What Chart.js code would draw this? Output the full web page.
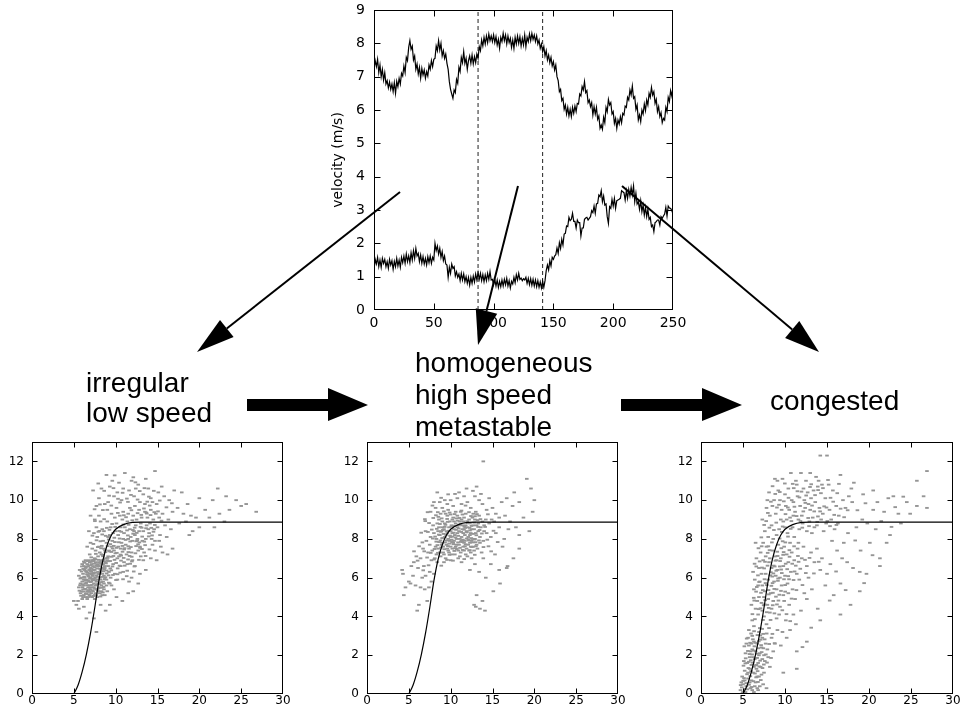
<!DOCTYPE html>
<html><head><meta charset="utf-8">
<script src="https://cdn.jsdelivr.net/npm/chart.js@4.4.0/dist/chart.umd.min.js"></script>
<style>
html,body{margin:0;padding:0;background:#fff;}
#wrap{position:relative;width:962px;height:717px;overflow:hidden;background:#fff;}
canvas{position:absolute;}
svg{position:absolute;left:0;top:0;pointer-events:none;}
</style></head><body>
<div id="wrap">
<canvas id="topChart" width="390" height="330" style="left:300px;top:0px"></canvas>
<canvas id="p1" width="295" height="287" style="left:0px;top:430px"></canvas>
<canvas id="p2" width="300" height="287" style="left:330px;top:430px"></canvas>
<canvas id="p3" width="302" height="287" style="left:660px;top:430px"></canvas>
<svg width="962" height="717" xmlns="http://www.w3.org/2000/svg">
<g stroke="#000" stroke-width="2" fill="none">
<line x1="400" y1="192" x2="226.8" y2="328.5"/>
<line x1="518" y1="186" x2="486.5" y2="311"/>
<line x1="622" y1="186" x2="792.2" y2="329.5"/>
</g>
<g fill="#000">
<polygon points="197,352 233.6,337.1 220,319.9"/>
<polygon points="478,345 497.2,313.7 475.8,308.3"/>
<polygon points="819,352 799.3,321.1 785.1,337.9"/>
<polygon points="247,399 328,399 328,388 368,405 328,421 328,411 247,411"/>
<polygon points="621,399 702,399 702,388 742,405 702,421 702,411 621,411"/>
</g>
<g font-family="Liberation Sans, Arial, sans-serif" font-size="28" fill="#000">
<text x="86" y="392">irregular</text>
<text x="86" y="422">low speed</text>
<text x="415" y="372">homogeneous</text>
<text x="415" y="404">high speed</text>
<text x="415" y="436">metastable</text>
<text x="770" y="410">congested</text>
</g>
</svg>
</div>
<script>
// ---------- DATA ----------
const sampleStep = 1; // seconds between samples
const timeUpper = [7.25,7.48,7.30,7.52,7.12,7.35,7.00,7.22,6.90,7.12,6.78,
6.88,6.66,6.84,6.62,6.78,6.55,6.82,6.50,6.86,6.70,
6.95,6.78,7.10,7.02,7.32,7.12,7.58,7.48,7.88,8.08,
7.82,7.92,7.50,7.62,7.22,7.38,7.08,7.28,6.95,7.25,
7.05,7.20,6.95,7.15,7.02,7.35,7.22,7.48,7.30,7.52,
7.55,7.92,7.78,8.08,7.80,8.00,7.62,7.78,7.55,7.68,
7.40,7.22,6.85,6.62,6.48,6.35,6.60,6.52,6.92,6.80,
7.28,7.15,7.58,7.42,7.75,7.40,7.55,7.22,7.48,7.62,
7.40,7.65,7.38,7.60,7.42,7.68,7.55,7.90,7.78,8.10,
7.92,8.18,7.98,8.22,8.02,8.28,8.08,8.22,8.05,8.25,
8.02,8.20,7.95,8.12,7.85,8.18,8.05,8.30,8.08,8.25,
7.98,8.22,8.02,8.15,7.88,8.10,7.85,8.18,7.98,8.22,
8.00,8.20,7.92,8.15,7.95,8.25,7.90,8.18,8.05,8.28,
8.08,8.30,8.12,8.25,8.05,8.22,7.98,8.10,7.85,7.98,
7.75,7.90,7.62,7.78,7.50,7.65,7.42,7.58,7.32,7.45,
7.20,7.35,7.00,6.88,6.55,6.62,6.28,6.35,6.02,6.15,
5.88,6.08,5.82,6.02,5.80,6.08,5.90,6.12,5.95,6.20,
6.18,6.48,6.42,6.70,6.60,6.85,6.52,6.58,6.22,6.30,
6.10,6.22,5.85,6.10,5.88,6.08,5.72,5.82,5.45,5.55,
5.42,5.78,5.62,6.08,5.95,6.32,6.15,6.22,5.88,5.95,
5.60,5.75,5.45,5.70,5.58,5.80,5.62,5.90,5.85,6.12,
6.08,6.38,6.30,6.60,6.45,6.72,6.35,6.40,6.02,6.15,
5.70,5.85,5.65,6.00,5.88,6.18,5.98,6.30,6.15,6.50,
6.38,6.68,6.45,6.55,6.20,6.32,5.95,6.10,5.80,5.92,
5.62,5.75,5.70,6.08,5.95,6.38,6.25,6.58,6.42,6.68];
const timeLower = [1.20,1.52,1.38,1.58,1.30,1.50,1.28,1.55,1.40,1.52,1.30,
1.45,1.25,1.52,1.35,1.48,1.22,1.46,1.30,1.55,1.32,
1.50,1.28,1.58,1.42,1.62,1.40,1.68,1.45,1.62,1.42,
1.72,1.50,1.78,1.55,1.85,1.62,1.70,1.45,1.65,1.40,
1.60,1.38,1.55,1.35,1.60,1.42,1.62,1.40,1.58,1.50,
2.00,1.78,1.92,1.68,1.85,1.58,1.75,1.48,1.62,1.38,
1.35,0.98,1.28,1.10,1.38,1.25,1.30,1.02,1.15,0.98,
1.08,0.88,1.10,0.90,1.08,0.85,1.00,0.80,0.98,0.75,
0.98,0.80,1.02,0.84,1.08,0.90,1.12,0.92,1.10,0.88,
1.06,0.85,1.05,0.88,1.10,0.92,1.15,0.90,0.92,0.76,
0.92,0.72,0.90,0.68,0.86,0.70,0.90,0.72,0.92,0.76,
0.95,0.72,0.88,0.66,0.86,0.78,0.98,0.82,1.06,0.90,
1.10,0.92,0.96,0.88,0.94,0.90,0.98,0.80,0.95,0.76,
0.94,0.74,0.92,0.72,0.90,0.70,0.88,0.68,0.84,0.66,
0.86,0.68,0.88,1.18,1.35,1.20,1.48,1.32,1.58,1.52,
1.62,1.66,1.86,1.70,2.02,1.85,2.12,1.95,2.28,2.30,
2.52,2.50,2.78,2.68,2.72,2.90,2.66,2.66,2.46,2.70,
2.62,2.62,2.22,2.46,2.46,2.72,2.76,2.78,2.70,2.75,
2.80,2.98,2.92,3.12,2.90,3.18,3.20,3.45,3.40,3.58,
3.25,3.42,3.15,3.18,2.80,2.60,3.10,3.05,3.32,3.12,
3.35,3.05,3.28,3.30,3.32,3.35,3.58,3.55,3.52,3.30,
3.58,3.35,3.62,3.42,3.68,3.45,3.72,3.25,3.50,3.18,
3.25,3.02,3.28,2.95,3.15,2.85,3.08,2.80,3.02,2.72,
2.78,2.50,2.55,2.35,2.62,2.65,2.70,2.70,2.55,2.80,
2.75,2.82,2.88,3.08,2.82,3.12,3.06,3.05,2.98,2.88];
const phaseDividers = [87, 141];
const topXTicks = [0, 50, 100, 150, 200, 250];
const topYTicks = [0, 1, 2, 3, 4, 5, 6, 7, 8, 9];
const fdXTicks = [0, 5, 10, 15, 20, 25, 30];
const fdYTicks = [0, 2, 4, 6, 8, 10, 12];
const fitHeadway = [5, 5.5, 6, 6.5, 7, 7.5, 8, 8.5, 9, 9.5, 10, 11, 12, 13, 30];
const fitSpeed   = [0, 0.45, 1.15, 2.05, 3.15, 4.45, 5.85, 6.95, 7.7, 8.2, 8.5, 8.75, 8.85, 8.87, 8.87];

const lowSpeedPts = [
[6.2,5.1],[6.8,5.6],[7.1,6.3],[6.5,5.9],[7.6,5.2],[8.1,6.0],[6.9,6.8],[7.4,5.7],[6.3,6.4],[8.6,5.4],[7.9,6.6],[6.6,5.3],[7.2,5.0],[8.3,6.9],[6.0,5.8],[7.7,6.1],[8.9,5.9],[6.4,6.9],[7.0,5.4],[8.4,5.1],
[5.8,5.2],[7.3,6.6],[6.7,6.1],[8.0,5.5],[9.2,6.3],[6.1,6.2],[7.5,4.9],[7.8,5.9],[6.9,5.1],[8.7,6.5],[5.6,5.5],[7.1,5.8],[6.4,5.0],[8.2,6.4],[7.6,6.8],[9.0,5.3],[6.7,6.6],[7.3,5.3],[5.9,6.0],[8.5,5.8],
[7.0,6.5],[6.2,5.6],[7.8,5.0],[8.8,6.8],[6.5,6.3],[7.4,6.2],[6.0,4.9],[8.1,5.2],[7.2,6.9],[6.8,5.8],[9.3,5.7],[5.7,6.4],[7.9,5.7],[6.3,5.4],[8.4,6.2],[7.5,6.4],[6.6,4.9],[7.0,6.0],[8.0,6.8],[6.9,6.4],
[7.7,5.4],[6.1,5.0],[8.6,6.1],[7.3,5.9],[5.5,4.8],[6.4,5.7],[7.6,6.0],[8.3,5.6],[6.8,6.9],[7.1,5.2],[9.1,6.6],[6.2,6.6],[7.9,6.3],[6.7,5.5],[8.7,5.1],[7.4,5.5],[6.0,6.7],[8.2,5.9],[7.2,6.2],[6.5,5.2],
[7.8,6.7],[9.4,6.0],[6.9,6.2],[7.5,5.1],[5.8,5.7],[8.5,6.7],[6.3,6.0],[7.0,5.6],[8.0,6.2],[6.6,6.7],[7.7,5.8],[8.9,5.6],[6.1,5.4],[7.3,6.4],[5.6,6.1],[8.3,5.3],[7.1,6.7],[6.4,6.5],[7.6,5.6],[8.1,6.6],
[6.8,5.3],[9.0,6.9],[5.9,5.3],[7.4,6.9],[6.7,5.0],[8.6,5.7],[7.2,5.5],[6.2,5.9],[7.9,5.3],[8.4,6.5],
[6.35,5.42],[6.92,5.97],[7.48,6.53],[7.83,5.36],[6.57,6.18],[7.16,5.63],[8.27,5.77],[6.04,5.51],[7.62,6.27],[6.76,5.14],[8.51,6.33],[7.05,6.82],[5.92,6.32],[7.38,5.06],[8.05,6.47],[6.48,5.73],[7.27,6.09],[6.83,6.42],[8.78,6.02],[6.17,5.28],
[7.71,5.64],[6.62,6.86],[7.94,6.92],[7.19,5.34],[8.36,5.48],[5.78,5.96],[6.99,5.78],[7.54,5.87],[6.28,6.77],[8.64,6.83],[7.09,6.17],[6.41,5.16],[7.87,6.05],[6.71,5.87],[8.19,5.03],[5.67,5.33],[7.43,6.72],[6.95,6.63],[8.47,5.24],[6.23,6.05],
[7.66,5.09],[7.01,5.02],[6.54,6.56],[8.08,5.67],[7.35,6.26],[5.86,5.07],[6.88,5.27],[7.79,6.48],[6.12,6.45],[8.92,6.37],[7.24,5.88],[6.67,6.27],[7.58,6.95],[8.41,6.04],[6.37,5.84],[7.13,6.48],[5.96,6.58],[7.97,5.46],[6.79,6.06],[8.69,5.93],
[7.52,5.43],[6.46,6.34],[7.31,6.86],[8.23,6.71],[6.08,5.66],[7.74,6.61],[6.86,5.48],[9.15,6.12],[7.45,5.97],[6.59,5.61],[8.32,6.86],[7.02,6.35],[6.19,6.83],[7.91,6.19],[6.73,5.36],[8.56,5.52],[7.17,5.94],[5.74,5.61],[9.36,6.48],[8.14,6.29],
[8.62,6.42],[9.04,7.02],[9.48,6.38],[9.86,6.92],[10.24,6.48],[10.66,7.14],[11.08,6.62],[11.52,7.32],[11.94,6.84],[12.36,7.26],[12.78,6.92],[8.84,6.74],[9.26,7.36],[9.68,6.14],[10.12,7.54],[10.54,6.26],[10.96,7.02],[11.38,6.36],[11.82,7.58],[12.24,6.58],
[12.68,7.72],[13.14,7.48],[8.46,7.18],[8.92,6.22],[9.34,6.86],[9.78,7.64],[10.22,6.18],[10.64,6.88],[11.06,7.52],[11.48,6.94],[11.92,7.08],[12.46,7.88],[13.42,7.86],[9.18,5.74],[9.62,6.58],[10.04,5.88],[10.46,6.62],[10.88,5.92],[11.32,6.08],[11.74,6.72],
[12.16,6.32],[13.58,7.12],[8.34,7.64],[8.78,7.32],[9.52,7.08],[9.96,7.26],[10.82,7.34],[11.66,7.12],[12.92,7.54],[14.04,7.46],
[7.2,7.5],[7.8,8.1],[8.3,7.2],[8.9,7.8],[9.4,8.6],[9.8,7.4],[10.3,8.2],[10.8,9.0],[11.2,7.7],[11.7,8.5],[12.1,9.2],[12.6,8.0],[13.0,8.8],[13.5,9.4],[14.0,8.3],[14.5,9.0],[15.0,8.6],[7.5,7.0],[8.0,7.6],[8.6,8.4],
[9.1,7.1],[9.6,7.9],[10.1,8.8],[10.6,7.5],[11.0,8.3],[11.5,9.3],[12.0,7.9],[12.4,8.7],[12.9,7.6],[13.3,8.4],[13.8,9.1],[14.3,8.0],[14.8,9.3],[7.0,7.8],[7.7,8.6],[8.2,8.9],[8.8,7.0],[9.3,8.2],[9.9,9.1],[10.4,7.1],
[10.9,8.0],[11.4,8.9],[11.9,7.3],[12.3,8.2],[12.8,9.5],[13.2,7.9],[13.7,8.7],[14.2,9.5],[14.6,8.5],[15.2,9.1],[7.4,8.3],[8.1,7.3],[8.5,7.9],[9.0,8.9],[9.5,7.6],[10.0,8.4],[10.5,9.2],[10.7,7.8],[11.1,8.6],[11.6,7.5],
[12.2,8.4],[12.7,7.4],[13.1,9.1],[13.6,8.0],[14.1,8.8],[14.4,7.7],[15.3,8.2],[7.9,7.1],[8.4,8.5],[8.7,6.6],[9.2,7.4],[9.7,8.3],[10.2,7.0],[10.6,8.6],[11.3,7.2],[11.8,8.1],[12.5,9.0],[13.4,7.3],[13.9,8.5],[14.7,7.9],
[8.0,9.2],[9.5,9.3],[10.9,9.4],[12.0,6.9],[13.0,7.1],[7.3,6.9],[8.2,6.8],[9.7,6.7],[11.0,6.8],[15.6,9.3],[15.9,8.7],[16.3,9.0],[16.6,8.5],[15.4,7.6],[16.1,8.1],[16.8,9.4],[12.8,8.4],[11.5,8.0],[10.3,7.6],[9.1,8.1],
[8.6,7.5],[7.6,7.4],[10.1,9.6],[12.3,9.7],[13.5,9.8],[14.4,9.9],[9.0,9.5],[11.7,9.6],
[7.63,7.23],[8.17,7.88],[8.73,7.42],[9.26,8.47],[9.84,8.06],[10.38,7.83],[10.92,8.74],[11.46,8.18],[11.98,8.96],[12.52,8.31],[13.06,9.24],[13.63,8.55],[14.17,9.23],[14.68,8.72],[7.34,7.74],[7.93,8.37],[8.48,7.11],[9.03,7.63],[9.58,8.77],[10.14,7.28],
[10.67,8.37],[11.24,9.12],[11.73,7.87],[12.27,8.58],[12.84,7.82],[13.38,9.57],[13.95,8.13],[14.52,8.37],[15.06,9.42],[7.08,7.05],[7.52,8.92],[8.06,8.41],[8.62,9.02],[9.17,7.97],[9.73,7.12],[10.26,9.34],[10.81,7.64],[11.36,8.44],[11.88,9.48],[12.44,7.63],
[12.97,8.62],[13.52,7.68],[14.07,9.72],[14.61,9.38],[15.48,8.94],[7.86,7.58],[8.39,8.23],[8.94,8.57],[9.47,7.33],[9.94,8.62],[10.47,8.02],[11.02,7.46],[11.55,8.73],[12.09,8.27],[12.62,9.33],[13.17,8.12],[13.72,9.31],[14.26,8.57],[8.25,7.52],[8.81,8.16],
[9.36,7.73],[9.91,7.84],[10.44,8.41],[10.98,9.22],[11.51,7.62],[12.06,8.46],[12.58,7.92],[13.11,8.58],[13.66,9.36],[14.35,8.18],[7.22,8.17],[7.71,7.93],[8.54,6.92],[9.12,6.85],[9.64,7.51],[10.06,6.76],[10.58,7.19],[11.19,7.95],[16.07,9.63],
[7.3,10.5],[8.0,10.1],[8.7,9.8],[9.3,10.7],[8.9,11.3],[9.8,10.2],[10.4,10.9],[11.1,11.4],[10.7,10.0],[11.6,10.5],[12.2,10.2],[12.7,10.8],[13.3,10.3],[13.9,10.6],[14.7,11.5],[14.2,10.1],[15.1,10.4],[15.8,10.2],[16.4,10.0],[17.0,10.5],
[7.7,9.7],[8.3,10.6],[9.6,11.0],[10.2,10.4],[11.9,11.0],[12.9,9.9],[13.6,11.1],[14.9,9.8],[15.5,10.7],[9.1,9.9],[10.9,10.6],[12.4,10.6],[7.0,9.2],[7.5,9.0],[6.8,8.4],[6.6,7.6],[6.9,7.2],
[8.12,9.78],[8.63,10.48],[9.22,10.23],[9.74,10.62],[10.28,10.07],[10.83,10.38],[11.34,10.08],[11.83,10.27],[12.36,10.92],[12.88,10.47],[13.44,10.62],[13.97,10.18],[14.56,10.48],[15.27,9.98],[7.48,9.53],[8.47,9.49],[9.48,9.72],[10.53,9.88],[11.47,9.91],[12.62,10.03],
[13.78,9.92],[7.92,10.86],[9.88,11.28],[12.11,11.18],[16.72,9.84],
[5.3,4.6],[5.6,4.4],[6.2,4.5],[6.9,4.2],[7.4,3.9],[7.7,3.2],[8.2,4.6],[8.8,4.3],[9.3,4.6],[6.5,3.9],[10.1,5.0],[10.8,4.8],[9.8,5.4],[11.5,5.2],[12.1,5.3],[5.0,4.8],
[10.2,5.9],[10.9,6.3],[11.6,5.8],[12.3,6.6],[12.9,6.2],[13.6,6.4],[14.2,7.0],[14.9,6.9],[15.6,7.3],[16.2,7.2],[11.4,6.7],[12.7,5.7],[13.3,6.9],[14.7,7.4],[10.6,6.6],[9.9,6.2],[9.5,5.6],[11.9,6.0],[16.8,7.5],[15.2,7.9],
[17.6,8.8],[18.1,9.3],[18.4,8.9],[18.8,8.2],[19.2,8.4],[19.6,9.1],[20.0,10.1],[20.0,8.6],[20.7,9.5],[21.2,9.1],[21.6,10.0],[22.2,10.6],[22.4,9.3],[23.0,8.9],[23.2,10.2],[24.4,10.0],[25.0,9.7],[25.6,9.8],[26.8,9.4],[18.6,9.8],
[17.4,9.6],[19.0,9.2],[21.8,8.6],[23.6,9.5],[17.9,10.4]];

const metastablePts = [
[9.0,7.8],[9.6,8.3],[10.2,7.5],[10.8,8.6],[11.3,7.9],[11.9,8.4],[12.4,7.6],[9.3,8.8],[10.0,8.1],[10.5,7.2],[11.1,8.9],[11.6,7.4],[12.1,8.1],[12.7,8.7],[8.7,8.2],[9.8,7.3],[10.4,8.5],[11.0,7.7],[11.5,8.3],[12.0,7.1],
[12.6,8.0],[8.5,7.5],[9.2,8.5],[9.9,8.9],[10.7,8.0],[11.2,7.3],[11.8,8.7],[12.3,7.8],[13.0,8.3],[8.8,7.1],[9.5,7.7],[10.1,8.7],[10.6,7.6],[11.4,8.5],[12.2,9.0],[12.8,7.4],[13.3,8.8],[8.3,8.0],[9.1,7.3],[9.7,8.0],
[10.3,9.1],[10.9,7.4],[11.7,7.9],[12.5,8.5],[13.1,7.7],[8.6,8.6],[9.4,7.0],[10.0,7.6],[10.8,9.2],[11.3,8.1],[12.0,8.6],[12.9,9.0],[13.5,8.1],[8.2,7.6],[9.0,8.9],[9.7,7.4],[10.4,7.9],[11.0,8.4],[11.6,9.1],[12.4,8.3],
[13.2,7.5],[8.9,8.4],[9.6,9.2],[10.2,8.3],[10.9,7.0],[11.5,7.6],[12.2,7.4],[12.7,9.3],[13.6,8.6],[8.0,8.3],[8.7,7.3],[9.3,8.1],[9.9,7.9],[10.6,8.8],[11.2,9.4],[11.8,7.2],[12.5,7.9],[13.4,9.2],[14.0,8.4],[8.4,8.8],
[9.1,7.6],[9.8,8.6],[10.5,8.2],[11.1,7.1],[11.7,8.2],[12.3,8.8],[12.9,8.0],[13.8,8.9],[7.8,7.4],[8.6,9.0],[9.5,8.4],[10.2,9.0],[10.7,7.7],[11.4,8.7],[12.1,7.7],[12.8,8.5],[13.5,7.8],[7.6,8.1],[8.1,7.0],[8.9,7.7],
[9.4,9.3],[10.1,7.2],[10.8,8.3],[11.3,9.0],[11.9,7.5],[12.6,9.1],[13.3,8.4],[14.2,9.0],[7.9,8.7],[8.5,8.4],[9.2,7.2],[10.0,8.4],[10.6,9.4],[11.1,8.0],[11.8,9.3],[12.4,7.3],[13.0,9.4],[13.9,7.9],[7.5,7.7],[8.3,7.2],
[9.0,8.6],[9.7,9.5],[10.3,7.8],[11.0,8.7],[11.6,7.8],[12.3,8.2],[13.1,8.7],[14.3,8.3],[8.8,9.3],[9.6,7.5],[10.4,8.9],[11.5,8.9],[12.7,7.6],[14.0,8.7],[7.7,6.9],[8.4,6.8],[9.2,6.8],[10.0,6.9],[11.3,6.8],[12.5,7.0],
[13.7,7.3],[14.6,8.8],[14.8,8.1],[7.3,7.3],[7.1,7.9],[7.0,8.4],
[8.62,7.84],[9.14,8.26],[9.67,7.63],[10.18,8.12],[10.73,7.48],[11.26,8.36],[11.78,7.72],[12.31,8.44],[12.86,7.97],[8.34,8.52],[8.86,7.56],[9.38,8.73],[9.92,8.17],[10.43,7.38],[10.96,8.54],[11.47,7.96],[12.02,8.82],[12.54,7.58],[13.07,8.19],[8.47,7.28],
[8.98,8.04],[9.51,7.92],[10.07,8.63],[10.58,8.08],[11.12,7.54],[11.63,8.64],[12.16,7.92],[12.68,8.26],[13.22,8.97],[8.14,8.12],[8.72,8.77],[9.24,7.47],[9.79,8.42],[10.32,7.73],[10.84,8.94],[11.37,7.84],[11.92,8.02],[12.43,9.18],[12.98,7.83],[13.46,8.46],
[8.28,7.86],[8.81,8.37],[9.33,7.82],[9.86,7.18],[10.39,8.68],[10.91,8.16],[11.43,7.43],[11.96,8.91],[12.47,8.04],[13.02,7.62],[8.53,9.14],[9.06,8.46],[9.58,9.03],[10.12,7.96],[10.64,8.47],[11.18,8.78],[11.71,7.62],[12.26,8.57],[12.81,8.84],[13.38,7.92],
[7.86,8.02],[8.41,7.68],[8.93,9.06],[9.46,8.21],[9.99,9.26],[10.53,7.52],[11.06,9.08],[11.59,8.48],[12.12,7.97],[12.64,7.82],[13.28,8.62],[7.74,8.48],[8.24,9.22],[8.77,7.92],[9.29,8.62],[9.82,7.76],[10.36,8.32],[10.88,7.82],[11.41,9.26],[11.94,8.34],
[12.49,8.67],[13.56,9.02],[8.07,7.48],[8.58,8.22],[9.11,8.06],[9.64,8.88],[10.16,7.84],[10.69,9.06],[11.22,7.86],[11.74,8.57],[12.29,7.42],[12.91,9.17],[13.73,8.28],[7.92,9.08],[8.46,9.38],[9.19,9.42],[9.88,9.36],[10.47,9.28],[11.29,9.46],[12.19,9.38],
[13.14,9.28],[14.12,8.62],[14.45,9.27],[7.42,8.82],[7.28,8.36],[7.62,7.28],[8.02,6.94],[8.88,6.62],[9.56,6.92],[10.28,6.88],[11.62,6.96],[12.88,7.18],[13.92,7.58],[14.52,7.62],[7.18,7.04],[6.84,7.36],[6.62,7.82],[6.96,8.92],[7.24,9.38],
[7.82,9.72],[8.86,10.12],[10.52,10.32],[11.78,9.72],[12.66,10.48],[13.62,10.32],[6.92,9.02],[6.48,8.32],[6.23,7.62],[5.62,7.36],[6.05,6.88],[6.72,6.38],[7.36,6.64],[14.38,7.96],[15.12,8.42],[14.84,7.36],[15.62,7.84],
[7.6,9.4],[8.2,9.6],[8.7,9.9],[9.3,10.0],[9.7,10.3],[10.3,9.7],[10.8,10.1],[11.3,9.8],[11.9,10.6],[12.4,9.6],[12.9,10.2],[13.1,10.7],[13.8,9.8],[14.3,9.5],[14.6,10.1],[8.0,9.9],[9.0,9.6],[10.0,10.0],[11.0,10.4],[12.0,9.9],
[13.4,10.0],[8.4,10.4],[9.6,9.8],[11.6,10.2],[13.9,12.0],[15.0,9.6],[15.4,9.3],[15.8,9.1],[14.9,9.0],
[4.2,6.4],[4.3,6.2],[4.4,5.1],[4.6,5.5],[5.0,5.8],[5.2,5.7],[5.5,6.1],[5.8,5.6],[6.0,4.3],[6.2,4.6],[6.4,5.5],[6.6,6.0],[6.9,5.4],[7.2,4.8],[7.4,5.5],[5.3,6.6],[6.1,6.5],[6.8,6.6],[7.5,6.3],[5.9,7.1],
[6.4,7.0],[6.7,7.5],[5.6,6.8],[7.0,6.1],[8.0,6.2],[7.7,5.8],
[12.8,4.6],[13.0,4.5],[13.1,5.1],[13.5,4.4],[14.1,4.3],[13.8,4.8],[15.1,5.3],[15.9,5.7],[16.7,6.5],[17.5,7.0],[15.8,6.4],[16.8,6.6],[13.4,6.3],[14.2,6.0],[14.8,6.7],[12.9,6.7],[13.9,7.0],[15.3,7.2],[16.2,7.6],[12.3,6.4],
[16.1,9.9],[17.4,9.7],[18.2,9.9],[19.1,11.1],[19.6,10.6],[20.0,10.0],[19.8,9.4],[19.4,8.4],[18.2,8.2],[16.9,8.5],[18.2,7.5],[15.8,8.6],[16.5,9.2],[17.1,8.9],[17.8,8.6],[15.4,8.3],[16.4,8.0],[18.7,9.1],[17.6,10.4],[16.7,10.1],
[15.2,8.9]];

const congestedPts = [
[4.7,0.2],[5.0,0.5],[5.3,0.1],[5.6,0.8],[5.9,0.3],[6.2,1.1],[6.5,0.6],[6.8,0.2],[7.1,1.4],[5.2,1.2],[5.5,1.6],[5.8,1.9],[6.1,2.3],[6.4,1.8],[6.7,2.6],[7.0,2.1],[7.3,2.9],[7.6,1.7],[4.9,0.9],[5.4,0.4],
[6.0,0.7],[6.3,0.1],[6.6,1.3],[6.9,0.9],[7.4,0.5],[7.8,0.3],[5.1,1.7],[5.7,2.5],[6.0,1.5],[6.3,2.7],[6.8,1.6],[7.2,2.4],[7.5,1.1],[8.0,1.9],[5.3,2.1],[5.6,2.9],[6.1,3.0],[6.5,2.2],[6.9,3.2],[7.7,2.6],
[8.2,1.4],[4.8,0.6],[5.5,0.0],[5.8,1.3],[6.4,0.4],[6.7,0.9],[7.0,0.4],[7.3,1.8],[5.4,2.6],[5.9,2.2],[6.2,1.9],[6.6,1.5],[7.1,2.8],[7.9,2.3],[8.4,2.9],[5.0,0.1],[5.6,1.1],[6.0,2.6],[6.7,0.3],[7.5,2.0],
[5.2,0.7],[6.3,1.4],[6.9,2.0],[7.4,3.1],[8.6,2.2],[5.8,0.6],[6.1,0.2],[7.2,1.0],
[4.86,0.34],[5.12,0.82],[5.38,0.56],[5.64,1.34],[5.87,0.92],[6.14,1.62],[6.42,1.06],[6.68,1.86],[6.94,1.42],[7.22,2.16],[5.06,1.46],[5.32,1.84],[5.58,2.22],[5.84,2.64],[6.08,2.04],[6.36,2.46],[6.62,2.08],[6.88,2.72],[7.16,2.52],[7.42,2.36],
[4.94,0.04],[5.24,0.26],[5.48,1.02],[5.72,0.48],[5.96,1.18],[6.24,0.66],[6.52,1.48],[6.78,0.62],[7.04,1.72],[7.32,1.34],[5.16,2.46],[5.44,2.86],[5.68,1.66],[5.92,1.74],[6.18,2.82],[6.46,2.64],[6.74,1.18],[7.06,3.02],[7.58,2.82],[7.86,1.62],
[4.72,0.46],[5.02,0.68],[5.28,1.58],[5.52,0.24],[5.78,2.06],[6.02,0.36],[6.28,2.24],[6.56,0.86],[6.84,2.36],[7.12,0.72],[7.48,1.52],[7.72,2.04],[8.12,2.58],[8.34,1.86],[8.76,2.62],[5.96,3.12],[6.32,3.24],[6.72,3.04],[7.28,3.36],[7.82,3.12],
[5.7,3.3],[6.1,3.8],[6.5,4.4],[6.9,5.0],[7.3,5.6],[7.7,6.2],[8.1,6.8],[8.5,7.4],[6.3,3.5],[6.8,4.1],[7.2,4.7],[7.6,5.3],[8.0,5.9],[8.4,6.5],[8.8,7.1],[9.2,7.7],[7.0,3.4],[7.5,4.0],[7.9,4.6],[8.3,5.2],
[8.7,5.8],[9.1,6.4],[9.5,7.0],[9.9,7.6],[7.8,3.6],[8.2,4.2],[8.6,4.8],[9.0,5.4],[9.4,6.0],[9.8,6.6],[10.2,7.2],[10.6,7.8],[8.5,3.1],[9.0,3.9],[9.4,4.5],[9.8,5.1],[10.3,5.7],[10.7,6.3],[11.1,6.9],[11.5,7.5],
[6.0,4.6],[6.3,5.4],[6.2,6.3],[6.6,7.0],[6.5,7.8],[6.9,6.5],[7.1,7.3],[7.4,7.8],[7.0,5.8],[7.4,6.9],[7.8,7.6],[8.0,4.9],[8.9,6.1],[9.6,5.6],[10.4,6.8],[10.9,5.4],[11.4,6.2],[12.0,7.0],[12.6,6.6],[13.1,7.3],
[11.7,5.9],[12.3,5.2],[12.8,6.0],[13.5,6.8],[10.5,4.6],[11.2,4.9],[11.9,4.3],[10.1,3.8],[9.7,3.2],[10.6,3.3],[11.3,3.6],[8.8,2.6],[9.5,2.5],[10.2,2.9],[8.1,3.4],[6.4,5.9],[6.7,4.8],[7.3,4.3],[7.7,7.1],[8.6,8.0],
[9.3,4.1],[9.9,4.8],[12.2,7.6],[13.8,7.5],[14.4,7.0],[15.0,6.2],[14.2,6.4],[13.2,5.4],[12.6,4.9],[11.0,4.1],[10.4,5.2],[9.1,3.3],[8.4,4.4],[7.2,6.2],[8.2,7.0],[9.0,6.9],[10.0,6.1],[10.8,7.3],[11.6,7.8],[6.8,5.6],
[7.5,5.0],
[6.12,4.12],[6.34,4.82],[6.56,5.28],[6.78,6.12],[6.98,6.84],[7.22,7.62],[7.46,4.58],[7.68,5.72],[7.92,6.62],[8.16,7.42],[8.38,5.58],[8.62,6.22],[8.86,6.88],[9.08,7.34],[9.32,5.12],[9.54,6.42],[9.78,7.18],[10.02,5.62],[10.26,6.44],[10.52,7.42],
[10.78,4.92],[11.02,5.88],[11.28,6.62],[11.54,7.12],[11.82,6.46],[12.08,5.62],[12.38,6.92],[12.92,7.02],[13.44,6.22],[14.02,6.82],[6.42,3.86],[6.86,4.38],[7.38,3.82],[7.82,4.22],[8.28,3.82],[8.74,4.16],[9.22,4.82],[9.68,4.32],[10.18,4.12],[10.62,3.76],
[7.14,5.22],[7.56,5.92],[7.94,7.28],[8.48,6.06],[8.92,5.02],[9.42,6.86],[9.88,5.92],[10.38,6.08],[10.86,6.72],[11.36,5.36],[6.58,6.58],[6.84,7.52],[7.18,8.08],[7.52,6.48],[8.04,5.36],[8.56,5.22],[9.16,5.84],[9.72,7.88],[11.08,7.62],[12.48,6.24],
[8.24,6.12],[8.66,6.62],[9.12,7.12],[9.56,7.52],[10.04,7.82],[8.72,5.42],[9.18,5.96],[9.62,6.24],[10.08,6.72],[10.54,7.08],[7.64,4.84],[8.08,5.14],[8.52,5.72],[8.96,6.36],[9.38,6.58],[9.84,7.32],[7.36,5.36],[7.84,5.62],[8.32,6.28],[8.78,6.58],
[7.08,4.42],[7.58,4.62],[8.06,4.44],[8.54,4.58],[9.04,4.62],[9.52,5.32],[10.02,5.28],[10.48,5.92],[11.14,6.32],[11.62,6.82],[6.64,5.52],[6.92,5.78],[7.26,6.52],[7.62,6.82],[8.02,7.62],[8.44,7.82],[9.36,8.02],[10.36,8.12],[6.38,6.72],[6.28,4.96],
[7.3,9.0],[7.8,9.6],[8.1,10.4],[8.4,8.7],[8.9,9.3],[9.1,11.0],[9.4,10.0],[9.8,8.9],[10.1,9.7],[10.4,10.6],[10.7,11.4],[10.9,8.6],[11.2,9.4],[11.5,10.2],[11.9,11.4],[12.1,8.8],[12.4,9.6],[12.7,10.4],[13.0,11.4],[13.3,9.1],
[13.6,9.9],[13.9,10.7],[14.2,12.3],[14.5,9.3],[14.8,10.1],[15.0,12.3],[15.3,9.5],[15.7,10.5],[16.1,9.7],[16.6,11.3],[16.9,10.0],[7.6,8.4],[8.2,9.2],[8.7,10.0],[9.3,8.5],[9.6,9.5],[10.0,10.3],[10.3,8.3],[10.6,9.1],[11.0,9.9],
[11.4,10.8],[11.7,8.5],[12.0,9.2],[12.3,10.0],[12.6,8.4],[13.0,9.5],[13.4,10.5],[13.8,8.7],[14.1,9.6],[14.4,10.8],[14.9,8.8],[15.5,9.0],[16.3,8.8],[8.5,9.7],[9.0,8.2],[9.7,11.1],[10.2,9.0],[11.1,8.1],[11.8,9.7],[12.5,11.0],
[13.2,8.3],[13.7,11.2],[14.6,8.4],[15.2,10.8],[15.9,8.5],[16.4,9.2],[17.2,9.6],[17.6,10.2],[18.2,10.9],[8.0,8.1],[8.8,11.1],[9.5,9.0],[10.8,10.0],[11.3,11.0],[12.8,9.8],[13.5,8.6],[14.3,9.0],[12.2,10.6],[10.5,9.5],[9.2,10.5],
[7.9,10.0],[11.6,9.0],[13.1,10.1],[14.0,11.0],[12.9,8.9],[10.0,8.6],[11.0,9.2],
[7.52,8.72],[7.96,9.34],[8.32,9.92],[8.68,8.46],[9.04,9.62],[9.38,10.42],[9.72,8.64],[10.06,9.28],[10.42,10.12],[10.76,8.92],[11.12,9.66],[11.48,10.46],[11.84,8.92],[12.18,9.42],[12.52,10.24],[12.86,8.66],[13.22,9.72],[13.58,10.26],[13.92,9.16],[14.28,10.36],
[14.66,9.68],[15.04,8.92],[15.42,10.12],[15.86,9.24],[16.22,10.36],[16.62,9.56],[7.76,8.92],[8.14,8.58],[8.52,10.72],[8.96,8.84],[9.28,9.76],[9.62,8.36],[9.98,10.86],[10.34,9.62],[10.68,8.52],[11.04,10.62],[11.38,9.18],[11.72,10.14],[12.06,8.58],[12.42,9.86],
[12.76,9.08],[13.12,10.82],[13.48,9.42],[13.84,8.88],[14.18,9.42],[14.52,10.62],[14.94,9.62],[15.36,8.66],[15.74,9.92],[16.12,8.72],[8.84,10.32],[9.86,9.94],[10.92,10.84],[11.96,10.44],[12.98,10.68],[13.94,10.52],[15.12,11.04],[16.42,10.84],[17.04,9.12],[17.46,9.48],
[14.2,3.8],[12.6,2.7],[11.4,1.3],[9.8,1.1],[11.4,2.2],[16.6,4.1],[17.8,4.6],[16.6,5.7],[18.9,5.3],[18.1,6.5],[18.9,6.3],[19.7,6.2],[21.3,6.6],[21.3,7.0],[20.1,7.8],[22.1,7.8],[22.5,8.2],[17.0,7.8],[17.5,8.3],[18.5,8.6],
[19.2,9.0],[19.8,8.8],[20.5,9.5],[21.0,9.9],[21.8,9.4],[22.3,10.1],[22.9,10.2],[23.5,9.3],[24.5,9.9],[25.7,11.0],[26.9,11.5],[26.5,10.2],[26.9,9.6],[25.7,9.7],[20.5,10.5],[19.3,10.3],[18.0,9.9],[16.8,7.0],[17.4,6.8],[15.6,7.9],
[16.2,7.4],[15.4,6.7],[14.8,5.6],[13.9,4.4],[15.8,5.1],[19.0,7.4],[23.8,8.8],[24.9,9.3],[20.8,8.5],[17.9,10.6],
[18.62,9.48],[19.58,9.84],[21.46,8.92],[23.12,9.64],[24.08,10.18],[18.36,7.92],[20.42,7.16],[17.22,5.36],[15.32,4.82],[13.12,3.42],[12.08,2.42],[16.08,6.32],[19.42,5.72],[22.68,8.62]];

// ---------- RENDERING ----------
Chart.defaults.font.family = 'DejaVu Sans';
Chart.defaults.color = '#000';

const framePlugin = {
  id: 'frame',
  afterDatasetsDraw(chart, args, opts) {
    const ctx = chart.ctx;
    const ca = chart.chartArea;
    const L0 = Math.round(ca.left) + 0.5, R0 = Math.round(ca.right) - 0.5;
    const T0 = Math.round(ca.top) + 0.5, B0 = Math.round(ca.bottom) - 0.5;
    const xs = chart.scales.x, ys = chart.scales.y;
    const L = opts.len || 5;
    ctx.save();
    ctx.strokeStyle = '#000';
    ctx.lineWidth = 1;
    ctx.beginPath();
    xs.ticks.forEach(t => {
      const px = Math.round(xs.getPixelForValue(t.value)) + 0.5;
      if (px <= L0 + 1 || px >= R0 - 1) return;
      ctx.moveTo(px, B0); ctx.lineTo(px, B0 - L);
      ctx.moveTo(px, T0); ctx.lineTo(px, T0 + L);
    });
    ys.ticks.forEach(t => {
      const py = Math.round(ys.getPixelForValue(t.value)) + 0.5;
      if (py <= T0 + 1 || py >= B0 - 1) return;
      ctx.moveTo(L0, py); ctx.lineTo(L0 + L, py);
      ctx.moveTo(R0, py); ctx.lineTo(R0 - L, py);
    });
    ctx.stroke();
    ctx.strokeRect(L0, T0, R0 - L0, B0 - T0);
    ctx.restore();
  }
};

function fixedTicks(arr) {
  return function(scale) { scale.ticks = arr.map(v => ({value: v})); };
}
function hiddenGrid(len) {
  return {display: true, drawOnChartArea: false, drawTicks: true, tickLength: len, tickColor: 'rgba(0,0,0,0)'};
}

// Top time series chart
const upperData = timeUpper.map((v, i) => ({x: i * sampleStep, y: v}));
const lowerData = timeLower.map((v, i) => ({x: i * sampleStep, y: v}));
const dividerSets = phaseDividers.map(t => ({
  data: [{x: t, y: 0}, {x: t, y: 9}],
  borderColor: '#222', borderWidth: 1, borderDash: [4, 3], pointRadius: 0, showLine: true, fill: false
}));

new Chart(document.getElementById('topChart'), {
  type: 'scatter',
  data: {
    datasets: [
      {data: upperData, showLine: true, borderColor: '#000', borderWidth: 1.2, pointRadius: 0, tension: 0, fill: false},
      {data: lowerData, showLine: true, borderColor: '#000', borderWidth: 1.2, pointRadius: 0, tension: 0, fill: false},
      ...dividerSets
    ]
  },
  options: {
    responsive: false, animation: false, devicePixelRatio: 1,
    layout: {padding: {top: 10, right: 17, left: 0, bottom: 0}},
    plugins: {legend: {display: false}, tooltip: {enabled: false}, frame: {len: 6}},
    scales: {
      x: {type: 'linear', min: 0, max: 250,
        afterBuildTicks: fixedTicks(topXTicks),
        afterFit: s => { s.height = 20; },
        grid: hiddenGrid(5), border: {display: false},
        ticks: {font: {size: 14}, padding: 0, autoSkip: false, maxRotation: 0, color: '#000'}},
      y: {type: 'linear', min: 0, max: 9,
        afterBuildTicks: fixedTicks(topYTicks),
        afterFit: s => { s.width = 74; },
        grid: hiddenGrid(9), border: {display: false},
        ticks: {font: {size: 14}, padding: 0, color: '#000'},
        title: {display: true, text: 'velocity (m/s)', font: {size: 14}, padding: {top: 30, bottom: 0}, color: '#000'}}
    }
  },
  plugins: [framePlugin]
});

function fdChart(id, pts, yAxisWidth, padRight) {
  new Chart(document.getElementById(id), {
    type: 'scatter',
    data: {
      datasets: [
        {type: 'line', data: fitHeadway.map((x, i) => ({x: x, y: fitSpeed[i]})), borderColor: '#000', borderWidth: 1.2,
         pointRadius: 0, cubicInterpolationMode: 'monotone', fill: false},
        {data: pts.map(p => ({x: p[0], y: p[1]})), pointStyle: 'line', pointRadius: 1.8,
         pointBorderWidth: 1.9, borderColor: '#959595', backgroundColor: '#959595'}
      ]
    },
    options: {
      responsive: false, animation: false, devicePixelRatio: 1,
      layout: {padding: {top: 12, right: padRight, left: 0, bottom: 0}},
      plugins: {legend: {display: false}, tooltip: {enabled: false}, frame: {len: 5}},
      scales: {
        x: {type: 'linear', min: 0, max: 30,
          afterBuildTicks: fixedTicks(fdXTicks),
          afterFit: s => { s.height = 23; },
          grid: {display: false, drawTicks: false}, border: {display: false},
          ticks: {font: {size: 12}, padding: 0, autoSkip: false, maxRotation: 0, color: '#000'}},
        y: {type: 'linear', min: 0, max: 13,
          afterBuildTicks: fixedTicks(fdYTicks),
          afterFit: s => { s.width = yAxisWidth; },
          grid: hiddenGrid(8), border: {display: false},
          ticks: {font: {size: 12}, padding: 0, color: '#000'}}
      }
    },
    plugins: [framePlugin]
  });
}
fdChart('p1', lowSpeedPts, 32, 12);
fdChart('p2', metastablePts, 37, 12);
fdChart('p3', congestedPts, 41, 9);
</script>
</body></html>
